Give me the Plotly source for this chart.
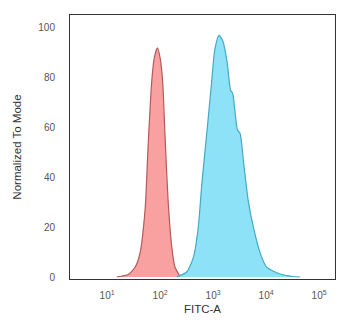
import plotly.graph_objects as go

# Isotype control (red) histogram: log10 intensity vs normalized count
red_log = [1.18, 1.40, 1.53, 1.62, 1.72, 1.77, 1.84, 1.89, 1.95, 2.00, 2.05, 2.09, 2.15, 2.22, 2.28, 2.38]
red_val = [0, 1, 4, 9.5, 28, 51, 78, 88, 92, 88, 78, 58, 31, 12, 4, 0]

# Antibody stained (blue) histogram
blue_log = [2.31, 2.50, 2.63, 2.72, 2.79, 2.88, 2.97, 3.03, 3.11, 3.18, 3.26, 3.33, 3.37, 3.41, 3.46,
            3.51, 3.57, 3.66, 3.76, 3.89, 4.01, 4.26, 4.51, 4.64]
blue_val = [0, 2, 8, 20, 38, 57.6, 77.7, 91, 97, 95, 87, 75, 73.7, 67, 59,
            57.6, 47, 31, 20, 9.5, 4, 1.2, 0.2, 0]

x_tickvals = [10, 100, 1000, 10000, 100000]
x_ticktext = ["10<sup>1</sup>", "10<sup>2</sup>", "10<sup>3</sup>", "10<sup>4</sup>", "10<sup>5</sup>"]
y_tickvals = [0, 20, 40, 60, 80, 100]

red_x = [10 ** v for v in red_log]
blue_x = [10 ** v for v in blue_log]

fig = go.Figure()
fig.add_trace(go.Scatter(x=red_x, y=red_val, mode="lines", fill="tozeroy",
                         line=dict(color="#b55a5a", width=1.2, shape="spline", smoothing=0.6),
                         fillcolor="rgba(248,150,150,0.9)", showlegend=False))
fig.add_trace(go.Scatter(x=blue_x, y=blue_val, mode="lines", fill="tozeroy",
                         line=dict(color="#45a9c4", width=1.2, shape="spline", smoothing=0.6),
                         fillcolor="rgba(135,224,248,0.95)", showlegend=False))

font = "Liberation Sans, Arial, sans-serif"
fig.update_layout(
    width=342, height=317,
    margin=dict(l=62, r=15, t=7, b=46),
    paper_bgcolor="white", plot_bgcolor="white",
    font=dict(family=font, size=10, color="#555"),
    xaxis=dict(type="log", range=[0.3, 5.3], tickvals=x_tickvals, ticktext=x_ticktext,
               showgrid=False, zeroline=False, showline=True, mirror=True,
               linecolor="#333", linewidth=1, ticks="", ticklabelstandoff=7,
               title=dict(text="FITC-A", font=dict(size=11.5, color="#333"), standoff=4)),
    yaxis=dict(range=[-0.8, 105.2], tickvals=y_tickvals,
               showgrid=False, zeroline=False, showline=True, mirror=True,
               linecolor="#333", linewidth=1, ticks="", ticklabelstandoff=12,
               title=dict(text="Normalized To Mode", font=dict(size=11.5, color="#333"), standoff=14)),
)

fig.write_html("out.html")
